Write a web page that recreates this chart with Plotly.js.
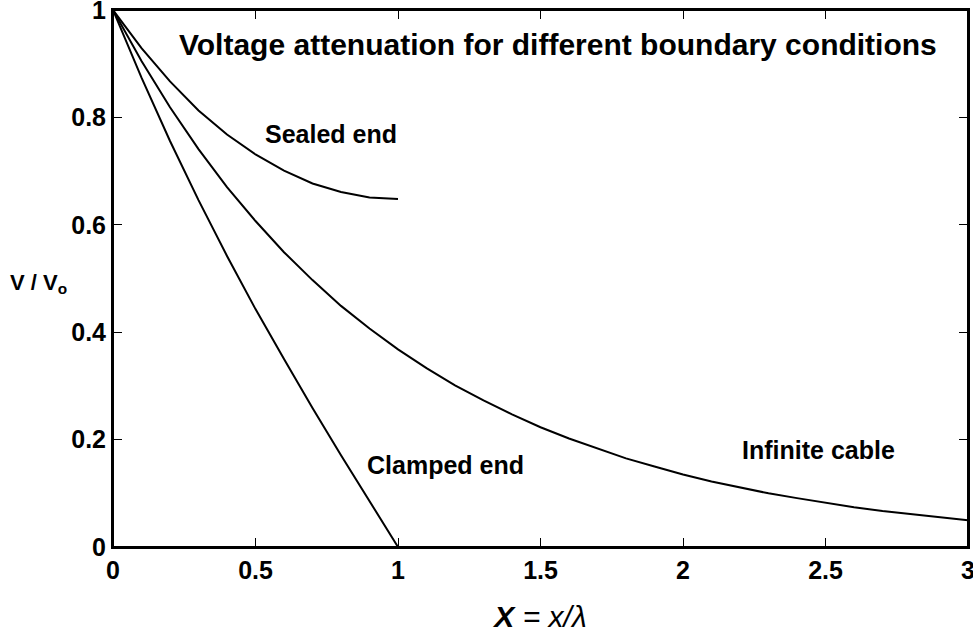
<!DOCTYPE html>
<html>
<head>
<meta charset="utf-8">
<script src="https://cdn.plot.ly/plotly-3.0.1.min.js"></script>
<style>
html,body{margin:0;padding:0;background:#fff;overflow:hidden;width:973px;height:633px;}
#chart{position:absolute;left:0;top:-10px;width:983px;height:643px;}
</style>
</head>
<body>
<div id="chart"></div>
<script>
// X = x/lambda sample positions
const xInfinite = [0,0.1,0.2,0.3,0.4,0.5,0.6,0.7,0.8,0.9,1.0,1.1,1.2,1.3,1.4,1.5,1.6,1.7,1.8,1.9,2.0,2.1,2.2,2.3,2.4,2.5,2.6,2.7,2.8,2.9,3.0];
const vInfinite = [1,0.905,0.819,0.741,0.670,0.607,0.549,0.497,0.449,0.407,0.368,0.333,0.301,0.273,0.247,0.223,0.202,0.183,0.165,0.150,0.135,0.122,0.111,0.100,0.091,0.082,0.074,0.067,0.061,0.055,0.050];
const xFinite = [0,0.1,0.2,0.3,0.4,0.5,0.6,0.7,0.8,0.9,1.0];
const vSealed = [1,0.929,0.867,0.813,0.768,0.731,0.701,0.677,0.661,0.651,0.648];
const vClamped = [1,0.874,0.756,0.646,0.542,0.443,0.350,0.259,0.171,0.085,0];

const labels = ["Sealed end","Clamped end","Infinite cable"];
const xTicks = [0,0.5,1,1.5,2,2.5,3];
const yTicks = [0,0.2,0.4,0.6,0.8,1];

const FONT = "Liberation Sans, Arial, Helvetica, sans-serif";
const XMAX = 3, YMAX = 1;
const tf = {family:FONT, size:25, color:"#000", weight:"bold"};

const traces = [
  {x:xInfinite, y:vInfinite, mode:"lines", line:{color:"#000", width:2}, hoverinfo:"skip"},
  {x:xFinite, y:vSealed, mode:"lines", line:{color:"#000", width:2}, hoverinfo:"skip"},
  {x:xFinite, y:vClamped, mode:"lines", line:{color:"#000", width:2}, hoverinfo:"skip"}
];

// the figure is 10px larger than the window on top and right so edge tick labels stay inside the div
const W = 983, H = 643;
const pw = W-113-15, ph = H-20-86;
const layout = {
  width:W, height:H,
  margin:{l:113, r:15, t:20, b:86},
  showlegend:false,
  paper_bgcolor:"#fff", plot_bgcolor:"#fff",
  font:{family:FONT, color:"#000"},
  title:{text:"<b>V / V<sub>o</sub></b>", xref:"container", yref:"container", x:10/W, y:1-292/H,
    xanchor:"left", yanchor:"middle", font:{size:22, family:FONT, color:"#000"}},
  xaxis:{range:[0,XMAX], tickvals:xTicks, showgrid:false, zeroline:false, showline:true, linecolor:"#000", linewidth:2,
    mirror:"ticks", ticks:"inside", ticklen:9, tickcolor:"#000", tickfont:tf,
    title:{text:"<b><i>X</i></b><i> = x/λ</i>", font:{size:30, family:FONT, color:"#000"}, standoff:33}},
  yaxis:{range:[0,YMAX], tickvals:yTicks, showgrid:false, zeroline:false, showline:true, linecolor:"#000", linewidth:2,
    mirror:"ticks", ticks:"inside", ticklen:9, tickcolor:"#000", tickfont:tf},
  shapes:[{type:"rect", xref:"paper", yref:"paper", x0:0, x1:1, y0:0, y1:1, line:{color:"#000", width:2}}],
  annotations:[
    {text:"<b>Voltage attenuation for different boundary conditions</b>", x:(558-113)/pw, y:1-(45-10)/ph, xref:"paper", yref:"paper", showarrow:false, font:{size:30, family:FONT}},
    {text:"<b>"+labels[0]+"</b>", x:0.765/XMAX, y:0.77/YMAX, xref:"paper", yref:"paper", showarrow:false, font:{size:25, family:FONT}},
    {text:"<b>"+labels[1]+"</b>", x:1.165/XMAX, y:0.152/YMAX, xref:"paper", yref:"paper", showarrow:false, font:{size:25, family:FONT}},
    {text:"<b>"+labels[2]+"</b>", x:2.475/XMAX, y:0.18/YMAX, xref:"paper", yref:"paper", showarrow:false, font:{size:25, family:FONT}}
  ]
};
layout.annotations.forEach(a=>{a.xanchor="center"; a.yanchor="middle";});

Plotly.newPlot("chart", traces, layout, {staticPlot:true});
</script>
</body>
</html>
